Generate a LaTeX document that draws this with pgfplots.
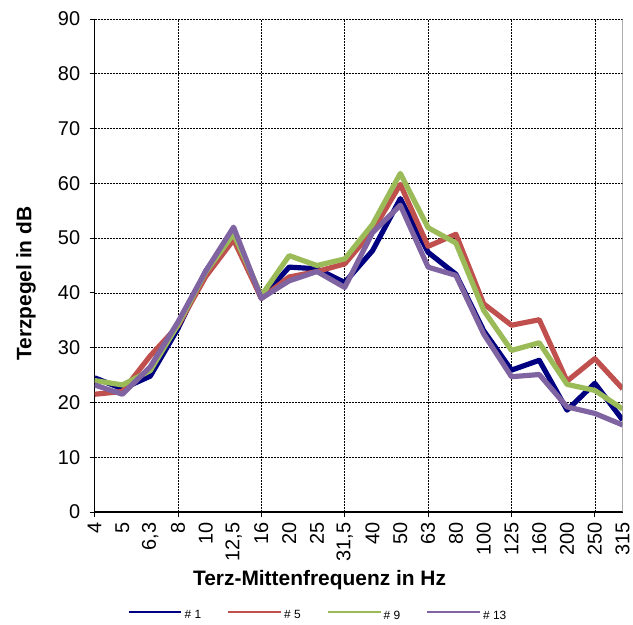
\documentclass[border=0pt]{standalone}
\usepackage{fontspec}
\setmainfont{Liberation Sans}
\usepackage{pgfplots}
\pgfplotsset{compat=1.18}
\definecolor{cnavy}{RGB}{0,0,128}
\definecolor{cred}{RGB}{192,80,77}
\definecolor{cgreen}{RGB}{155,187,89}
\definecolor{cpurple}{RGB}{128,100,162}
\begin{document}
\begin{tikzpicture}
\begin{axis}[
  scale only axis,
  width=530pt, height=495pt,
  xmin=0, xmax=19, ymin=0, ymax=90,
  axis x line*=bottom, axis y line*=left,
  axis line style={black, line width=1.2pt},
  /pgf/number format/assume math mode=true,
  ytick={0,10,...,90},
  ymajorgrids=true,
  xmajorgrids=true,
  grid style={black, line width=0.6pt, dash pattern=on 2pt off 1pt},
  tick align=outside,
  major tick length=5pt,
  tick style={black, line width=0.8pt},
  xtick={0,3,6,9,12,15,18},
  xticklabels={},
  xticklabel shift=7pt,
  extra x ticks={0,1,...,19},
  extra x tick labels={4,5,{6,3},8,10,{12,5},16,20,25,{31,5},40,50,63,80,100,125,160,200,250,315},
  extra x tick style={major tick length=0pt, xmajorgrids=false},
  xticklabel style={rotate=90, anchor=east, font=\fontsize{20}{22}\selectfont},
  yticklabel shift=6pt,
  yticklabel style={font=\fontsize{20}{22}\selectfont},
  xlabel={Terz-Mittenfrequenz in Hz},
  ylabel={Terzpegel in dB},
  every axis x label/.style={at={(axis description cs:0.426,-0.137)}, anchor=center, font=\fontsize{21}{24}\bfseries},
  every axis y label/.style={at={(axis description cs:-0.13,0.463)}, rotate=90, anchor=center, font=\fontsize{21}{24}\bfseries},
  legend columns=4,
  legend style={draw=none, fill=none, at={(axis description cs:0.423,-0.21)}, anchor=center,
    font=\fontsize{12}{14}\selectfont,
    /tikz/every even column/.append style={column sep=24pt}},
  legend image code/.code={\draw[line width=2.2pt] (0pt,4pt) -- (53pt,4pt);},
  every axis plot/.append style={line width=5.2pt, line join=round, mark=none},
]
\addplot[cnavy] coordinates {(0,24.5)(1,22.5)(2,24.8)(3,33.5)(4,44.0)(5,51.0)(6,39.0)(7,44.7)(8,44.4)(9,41.9)(10,47.7)(11,57.2)(12,47.4)(13,43.4)(14,33.1)(15,25.9)(16,27.7)(17,18.6)(18,23.5)(19,16.8)};
\addlegendentry{\# 1}
\addplot[cred] coordinates {(0,21.5)(1,22.0)(2,28.5)(3,34.0)(4,43.0)(5,49.7)(6,39.0)(7,42.9)(8,43.9)(9,45.3)(10,51.3)(11,59.8)(12,48.5)(13,50.7)(14,38.0)(15,34.1)(16,35.1)(17,23.9)(18,28.0)(19,22.5)};
\addlegendentry{\# 5}
\addplot[cgreen] coordinates {(0,24.0)(1,23.2)(2,25.8)(3,34.2)(4,43.8)(5,50.8)(6,39.5)(7,46.8)(8,45.0)(9,46.2)(10,52.5)(11,61.8)(12,51.9)(13,49.1)(14,36.8)(15,29.5)(16,30.9)(17,23.3)(18,22.2)(19,18.8)};
\addlegendentry{\# 9}
\addplot[cpurple] coordinates {(0,23.2)(1,21.5)(2,26.5)(3,34.7)(4,44.0)(5,52.0)(6,39.0)(7,42.2)(8,43.9)(9,41.0)(10,51.0)(11,56.0)(12,44.7)(13,43.2)(14,32.5)(15,24.7)(16,25.1)(17,19.2)(18,18.0)(19,15.9)};
\addlegendentry{\# 13}
\draw[gray, line width=1.2pt] (rel axis cs:1,0) -- (rel axis cs:1,1);
\end{axis}
\path (-95pt,-111pt) rectangle (538pt,514pt);
\end{tikzpicture}
\end{document}
